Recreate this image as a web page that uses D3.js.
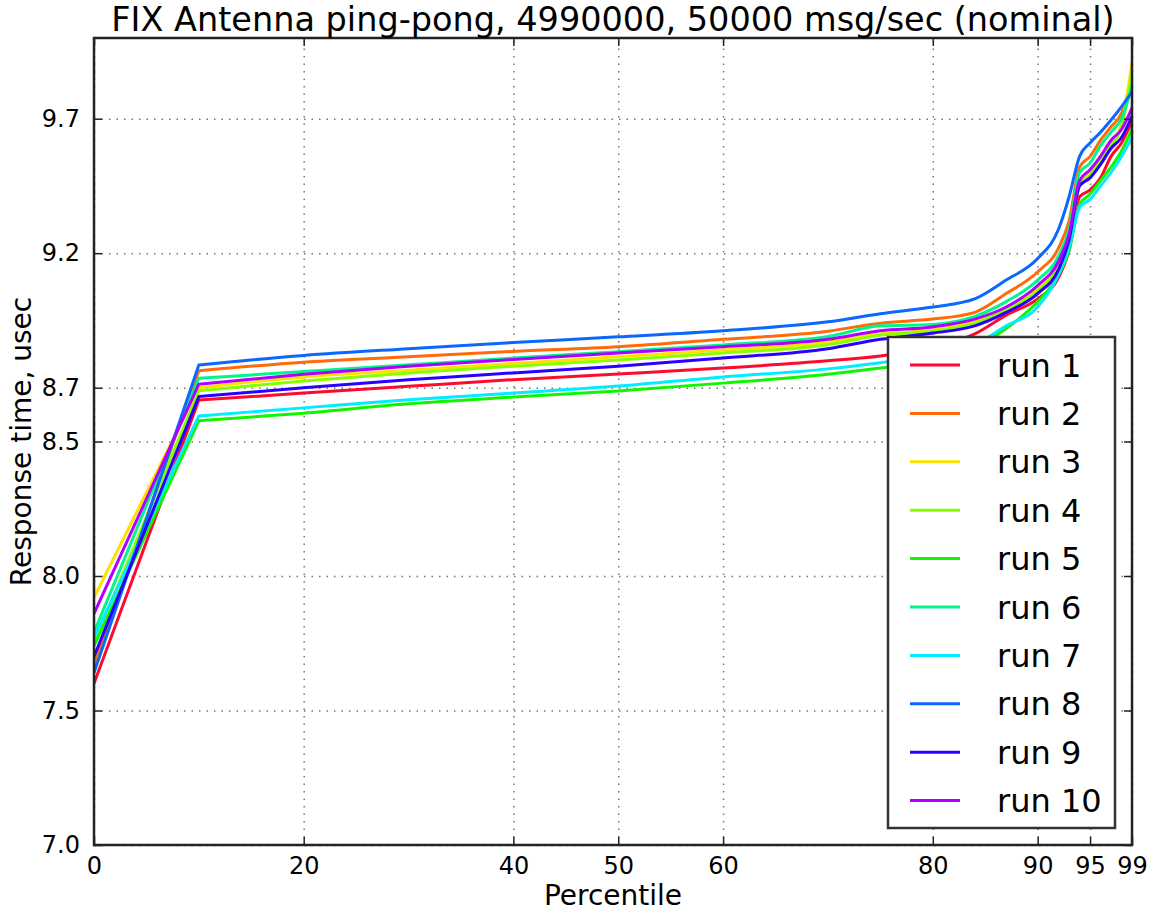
<!DOCTYPE html>
<html>
<head>
<meta charset="utf-8">
<script src="https://cdn.jsdelivr.net/npm/d3@7"></script>
<style>
  html, body { margin: 0; padding: 0; background: #fff; }
  svg { display: block; }
  text { font-family: "DejaVu Sans", sans-serif; fill: #000; }
</style>
</head>
<body>
<svg id="chart" width="1155" height="911"></svg>
<script>
// ---- data ----
const titleText = "FIX Antenna ping-pong, 4990000, 50000 msg/sec (nominal)";
const xLabel = "Percentile";
const yLabel = "Response time, usec";
const percentiles = [0, 10, 20, 30, 40, 50, 60, 70, 75, 80, 84, 87, 90, 92, 93, 94, 95, 96, 97, 98, 99];
const xTicks = [0, 20, 40, 50, 60, 80, 90, 95, 99];
const yTicks = [7.0, 7.5, 8.0, 8.5, 8.7, 9.2, 9.7];
const runNames = ["run 1", "run 2", "run 3", "run 4", "run 5", "run 6", "run 7", "run 8", "run 9", "run 10"];
const runColors = ["#ff0a2c", "#ff6a0a", "#ffe000", "#88ff00", "#12f500", "#00f58a", "#00ecff", "#0a68ff", "#2a00ff", "#b000ff"];

const run1  = [7.60, 8.654, 8.680, 8.705, 8.730, 8.751, 8.773, 8.800, 8.818, 8.850, 8.900, 8.970, 9.030, 9.110, 9.210, 9.410, 9.435, 9.480, 9.560, 9.610, 9.690];
const run2  = [7.67, 8.763, 8.795, 8.815, 8.835, 8.852, 8.880, 8.910, 8.940, 8.955, 8.980, 9.050, 9.130, 9.220, 9.320, 9.520, 9.560, 9.620, 9.670, 9.720, 9.850];
const run3  = [7.92, 8.700, 8.740, 8.765, 8.790, 8.815, 8.840, 8.870, 8.900, 8.915, 8.945, 8.995, 9.070, 9.160, 9.260, 9.460, 9.500, 9.560, 9.610, 9.680, 9.910];
const run4  = [7.75, 8.689, 8.725, 8.755, 8.780, 8.803, 8.829, 8.860, 8.895, 8.910, 8.940, 8.990, 9.060, 9.150, 9.250, 9.450, 9.490, 9.550, 9.600, 9.670, 9.870];
const run5  = [7.74, 8.577, 8.605, 8.640, 8.665, 8.688, 8.717, 8.750, 8.773, 8.800, 8.850, 8.920, 9.020, 9.120, 9.210, 9.380, 9.420, 9.470, 9.520, 9.580, 9.660];
const run6  = [7.79, 8.735, 8.760, 8.785, 8.810, 8.834, 8.859, 8.890, 8.930, 8.935, 8.965, 9.020, 9.100, 9.190, 9.290, 9.500, 9.535, 9.600, 9.650, 9.700, 9.820];
const run7  = [7.77, 8.595, 8.625, 8.655, 8.680, 8.706, 8.740, 8.770, 8.793, 8.820, 8.860, 8.930, 9.000, 9.120, 9.220, 9.370, 9.400, 9.450, 9.500, 9.560, 9.630];
const run8  = [7.64, 8.784, 8.820, 8.845, 8.868, 8.889, 8.912, 8.945, 8.975, 9.000, 9.030, 9.100, 9.180, 9.290, 9.410, 9.560, 9.610, 9.650, 9.695, 9.745, 9.800];
const run9  = [7.70, 8.667, 8.700, 8.730, 8.755, 8.780, 8.810, 8.845, 8.880, 8.903, 8.930, 8.980, 9.050, 9.140, 9.250, 9.450, 9.480, 9.530, 9.590, 9.630, 9.710];
const run10 = [7.86, 8.713, 8.750, 8.780, 8.805, 8.829, 8.852, 8.880, 8.912, 8.926, 8.955, 9.000, 9.080, 9.170, 9.270, 9.470, 9.510, 9.560, 9.620, 9.660, 9.740];
const runValues = [run1, run2, run3, run4, run5, run6, run7, run8, run9, run10];

// ---- layout ----
const svg = d3.select("#chart");
const L = 94, R = 1132, T = 38, B = 845;
const W = R - L, H = B - T;

const x = d3.scaleLinear().domain([0, 99]).range([L, R]);
const y = d3.scaleLinear().domain([7.0, 10.0]).range([B, T]);

svg.append("rect").attr("x", 0).attr("y", 0).attr("width", 1155).attr("height", 911).attr("fill", "#fff");

svg.append("defs").append("clipPath").attr("id", "plotclip")
  .append("rect").attr("x", L).attr("y", T).attr("width", W).attr("height", H);

// grid
const gridX = svg.append("g").attr("transform", `translate(0,${B})`)
  .call(d3.axisBottom(x).tickValues(xTicks).tickSize(-H).tickFormat(""));
const gridY = svg.append("g").attr("transform", `translate(${L},0)`)
  .call(d3.axisLeft(y).tickValues(yTicks).tickSize(-W).tickFormat(""));
[gridX, gridY].forEach(g => {
  g.select(".domain").remove();
  g.selectAll("line").attr("stroke", "#777").attr("stroke-width", 1.5).attr("stroke-dasharray", "1.5,6");
});

// lines
const lineGen = d3.line().x(d => x(d[0])).y(d => y(d[1])).curve(d3.curveMonotoneX);
const plot = svg.append("g").attr("clip-path", "url(#plotclip)");
runValues.forEach((vals, i) => {
  const pts = percentiles.map((p, j) => [p, vals[j]]);
  const head = `M${x(pts[0][0])},${y(pts[0][1])}`;
  const tail = lineGen(pts.slice(1)).replace(/^M/, "L");
  plot.append("path")
    .attr("d", head + tail)
    .attr("fill", "none")
    .attr("stroke", runColors[i])
    .attr("stroke-width", 3)
    .attr("stroke-linejoin", "round");
});

// axes (ticks inward, all four sides)
const tickStyle = g => {
  g.select(".domain").remove();
  g.selectAll(".tick line").attr("stroke", "#222").attr("stroke-width", 1.5);
};
const axB = svg.append("g").attr("transform", `translate(0,${B})`)
  .call(d3.axisBottom(x).tickValues(xTicks).tickSize(-8).tickPadding(12).tickFormat(d3.format("d")));
axB.call(tickStyle);
axB.selectAll("text").attr("font-size", 24).attr("font-family", "DejaVu Sans").attr("fill", "#000");

const axT = svg.append("g").attr("transform", `translate(0,${T})`)
  .call(d3.axisTop(x).tickValues(xTicks).tickSize(-8).tickFormat(""));
axT.call(tickStyle);

const axLft = svg.append("g").attr("transform", `translate(${L},0)`)
  .call(d3.axisLeft(y).tickValues(yTicks).tickSize(-8).tickPadding(14).tickFormat(d3.format(".1f")));
axLft.call(tickStyle);
axLft.selectAll("text").attr("font-size", 24).attr("font-family", "DejaVu Sans").attr("fill", "#000");

const axRt = svg.append("g").attr("transform", `translate(${R},0)`)
  .call(d3.axisRight(y).tickValues(yTicks).tickSize(-8).tickFormat(""));
axRt.call(tickStyle);

// frame
svg.append("rect").attr("x", L).attr("y", T).attr("width", W).attr("height", H)
  .attr("fill", "none").attr("stroke", "#222").attr("stroke-width", 2.5);

// title & labels
svg.append("text").attr("x", (L + R) / 2).attr("y", 31).attr("text-anchor", "middle")
  .attr("font-size", 33.5).text(titleText);
svg.append("text").attr("x", (L + R) / 2).attr("y", 905).attr("text-anchor", "middle")
  .attr("font-size", 28).text(xLabel);
svg.append("text").attr("transform", `translate(31,${(T + B) / 2}) rotate(-90)`)
  .attr("text-anchor", "middle").attr("font-size", 28).text(yLabel);

// legend
const lg = svg.append("g");
lg.append("rect").attr("x", 888).attr("y", 337).attr("width", 227).attr("height", 491)
  .attr("fill", "#fff").attr("stroke", "#333").attr("stroke-width", 2.5);
runNames.forEach((name, i) => {
  const yy = 365 + i * 48.4;
  lg.append("line").attr("x1", 910).attr("x2", 960).attr("y1", yy).attr("y2", yy)
    .attr("stroke", runColors[i]).attr("stroke-width", 3);
  lg.append("text").attr("x", 997).attr("y", yy + 11.5).attr("font-size", 32).text(name);
});
</script>
</body>
</html>
